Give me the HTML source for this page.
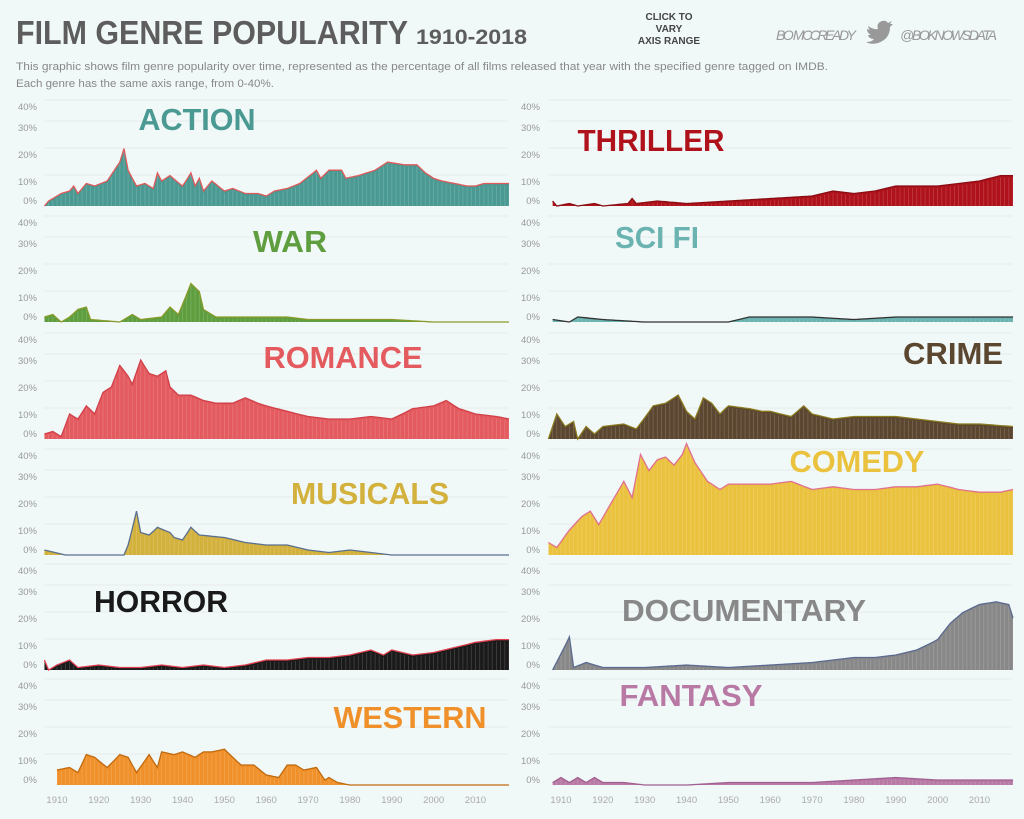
<!DOCTYPE html>
<html><head><meta charset="utf-8"><style>
body{margin:0;background:#f1f8f8;width:1024px;height:819px;overflow:hidden;font-family:"Liberation Sans",sans-serif}
svg{position:absolute;left:0;top:0}
</style></head><body>
<svg id="s" width="1024" height="819" xmlns="http://www.w3.org/2000/svg">
<text x="16" y="44" font-size="33" font-weight="bold" fill="#5d5d5d" textLength="392" lengthAdjust="spacingAndGlyphs">FILM GENRE POPULARITY</text>
<text x="416" y="44" font-size="21" font-weight="bold" fill="#5d5d5d" textLength="111" lengthAdjust="spacingAndGlyphs">1910-2018</text>
<text x="16" y="70" font-size="11" fill="#888" textLength="812" lengthAdjust="spacingAndGlyphs">This graphic shows film genre popularity over time, represented as the percentage of all films released that year with the specified genre tagged on IMDB.</text>
<text x="16" y="87" font-size="11" fill="#888" textLength="258" lengthAdjust="spacingAndGlyphs">Each genre has the same axis range, from 0-40%.</text>
<text x="669" y="20" font-size="10" font-weight="bold" fill="#444" text-anchor="middle">CLICK TO</text>
<text x="669" y="32" font-size="10" font-weight="bold" fill="#444" text-anchor="middle">VARY</text>
<text x="669" y="44" font-size="10" font-weight="bold" fill="#444" text-anchor="middle">AXIS RANGE</text>
<text x="776" y="40" font-size="14" font-style="italic" fill="#999" textLength="80">BO MCCREADY</text>
<path d="M868 26 q6 4 10 3 q-2-6 4-8 q4-1 6 2 l4-2 l-2 3 l3 0 l-3 3 q0 12-12 16 q-7 2-12-1 q6 0 8-3 q-5 0-6-4 l3 0 q-4-2-4-6 l3 1 q-3-3-1-7z" fill="#999"/>
<text x="900" y="40" font-size="14" font-style="italic" fill="#999" textLength="97">@BOKNOWSDATA</text>
<g id="g"></g>
</svg>
<script>
const D={
action:[[1907,0],[1908,2],[1911,5],[1913,6],[1914,8],[1915,5],[1917,9],[1919,8],[1922,10],[1925,17],[1926,22],[1927,14],[1929,8],[1931,9],[1933,7],[1934,13],[1935,10],[1937,12],[1940,8],[1942,13],[1943,8],[1944,11],[1945,6],[1947,10],[1950,6],[1952,7],[1955,5],[1958,5],[1960,4],[1962,6],[1965,7],[1968,9],[1972,14],[1973,11],[1975,14],[1978,14],[1979,11],[1982,12],[1986,14],[1989,17],[1993,16],[1996,16],[1998,13],[2000,11],[2002,10],[2005,9],[2008,8],[2010,8],[2012,9],[2015,9],[2018,9]],
thriller:[[1908,2],[1909,0],[1912,1],[1914,0],[1918,1],[1920,0],[1926,1],[1927,3],[1928,1],[1933,2],[1940,1],[1950,2],[1960,3],[1970,4],[1975,6],[1980,5],[1985,6],[1990,8],[1995,8],[2000,8],[2005,9],[2010,10],[2015,12],[2018,12]],
war:[[1907,2],[1909,3],[1911,0],[1913,2],[1915,5],[1917,6],[1918,1],[1925,0],[1928,3],[1930,1],[1935,2],[1937,6],[1939,3],[1941,11],[1942,15],[1944,12],[1945,5],[1948,2],[1955,2],[1960,2],[1965,2],[1970,1],[1980,1],[1990,1],[2000,0],[2018,0]],
scifi:[[1908,1],[1912,0],[1914,2],[1920,1],[1930,0],[1950,0],[1955,2],[1960,2],[1970,2],[1980,1],[1990,2],[2000,2],[2018,2]],
romance:[[1907,2],[1909,3],[1911,1],[1913,10],[1915,8],[1917,13],[1919,10],[1921,18],[1923,20],[1925,28],[1927,24],[1928,21],[1930,30],[1932,25],[1934,24],[1936,26],[1937,20],[1939,17],[1942,17],[1945,15],[1948,14],[1952,14],[1955,16],[1958,14],[1960,13],[1965,11],[1970,9],[1975,8],[1980,8],[1985,9],[1990,8],[1995,12],[2000,13],[2003,15],[2006,12],[2010,10],[2015,9],[2018,8]],
crime:[[1907,0],[1909,10],[1911,5],[1913,7],[1914,0],[1916,5],[1918,2],[1920,5],[1925,6],[1928,4],[1932,13],[1935,14],[1938,17],[1940,11],[1942,8],[1944,16],[1946,14],[1948,10],[1950,13],[1955,12],[1958,11],[1960,11],[1965,9],[1968,13],[1970,10],[1975,8],[1980,9],[1985,9],[1990,9],[1995,8],[2000,7],[2005,6],[2010,6],[2018,5]],
musicals:[[1907,2],[1912,0],[1926,0],[1927,4],[1929,17],[1930,9],[1932,8],[1934,11],[1937,9],[1938,7],[1940,6],[1942,11],[1944,8],[1950,7],[1955,5],[1960,4],[1965,4],[1970,2],[1975,1],[1980,2],[1985,1],[1990,0],[2000,0],[2018,0]],
comedy:[[1907,5],[1909,3],[1912,10],[1915,15],[1917,17],[1919,12],[1922,20],[1925,28],[1927,22],[1929,38],[1931,32],[1933,36],[1935,37],[1937,34],[1939,38],[1940,42],[1942,35],[1945,28],[1948,25],[1950,27],[1955,27],[1960,27],[1965,28],[1970,25],[1975,26],[1980,25],[1985,25],[1990,26],[1995,26],[2000,27],[2005,25],[2010,24],[2015,24],[2018,25]],
horror:[[1907,4],[1908,0],[1910,2],[1913,4],[1915,1],[1920,2],[1925,1],[1930,1],[1935,2],[1940,1],[1945,2],[1950,1],[1955,2],[1960,4],[1965,4],[1970,5],[1975,5],[1980,6],[1985,8],[1988,6],[1990,8],[1995,6],[2000,7],[2005,9],[2010,11],[2015,12],[2018,12]],
docu:[[1908,0],[1912,13],[1913,1],[1916,3],[1920,1],[1930,1],[1940,2],[1950,1],[1960,2],[1970,3],[1980,5],[1985,5],[1990,6],[1995,8],[2000,12],[2003,18],[2006,22],[2010,25],[2014,26],[2017,25],[2018,20]],
western:[[1910,6],[1913,7],[1915,5],[1917,12],[1919,11],[1922,7],[1925,12],[1927,11],[1929,5],[1932,12],[1934,7],[1935,13],[1938,12],[1940,13],[1943,11],[1945,13],[1947,13],[1950,14],[1952,11],[1954,8],[1957,8],[1960,4],[1963,3],[1965,8],[1967,8],[1969,6],[1972,7],[1974,2],[1975,3],[1977,1],[1980,0],[2018,0]],
fantasy:[[1908,1],[1910,3],[1912,1],[1914,3],[1916,1],[1918,3],[1920,1],[1925,1],[1930,0],[1940,0],[1950,1],[1960,1],[1970,1],[1980,2],[1990,3],[2000,2],[2018,2]]};
const P=[
['action',0,106,'#4a9a93','#e05a5a','ACTION',197,119,117],
['thriller',1,106,'#b0121b','#8a0d14','THRILLER',651,140,147],
['war',0,222,'#5e9e3f','#8a9a2a','WAR',290,241,74],
['scifi',1,222,'#6ab3b0','#333','SCI FI',657,237,84],
['romance',0,339,'#e35a5f','#d04048','ROMANCE',343,357,159],
['crime',1,339,'#5b4630','#8a7a20','CRIME',953,353,100],
['musicals',0,455,'#d3b13d','#5a7090','MUSICALS',370,493,158],
['comedy',1,455,'#eac23e','#e07090','COMEDY',857,461,135],
['horror',0,570,'#1a1a1a','#e04050','HORROR',161,601,134],
['docu',1,570,'#888888','#5a6a90','DOCUMENTARY',744,610,244],
['western',0,685,'#f0902a','#c06a10','WESTERN',410,717,153],
['fantasy',1,685,'#b87aa5','#a06090','FANTASY',691,695,143]];
function vy(v){return v<=10?100-v*2.5:75-2.7*(v-10);}
let h='';
function interp(d,y){if(y<d[0][0]||y>d[d.length-1][0])return null;for(let i=0;i<d.length-1;i++){if(y>=d[i][0]&&y<=d[i+1][0]){const t=(y-d[i][0])/(d[i+1][0]-d[i][0]);return d[i][1]+t*(d[i+1][1]-d[i][1]);}}return d[d.length-1][1];}
for(const [k,c,ty,fill,line,name,tx,tyy,tw] of P){
 const x0=c?548:44,x1=c?1012:508,ox=c?561:57,s=4.185;
 const X=y=>ox+(y-1910)*s;
 [[0,'40%'],[21,'30%'],[48,'20%'],[75,'10%'],[94,'0%']].forEach(([o,l],i)=>{
  if(i<4)h+=`<line x1="${x0}" x2="${x1}" y1="${ty+o-6}" y2="${ty+o-6}" stroke="#e6eded" stroke-width="1"/>`;
  h+=`<text x="${c?540:37}" y="${ty+o+4}" font-size="9.5" fill="#999" text-anchor="end">${l}</text>`;});
 const d=D[k],base=ty+100;
 let pts=[];for(let y=d[0][0];y<=d[d.length-1][0];y++)pts.push([X(y),ty+vy(interp(d,y))]);
 const ln=pts.map(p=>p[0].toFixed(1)+','+p[1].toFixed(1)).join(' ');
 h+=`<polygon points="${pts[0][0].toFixed(1)},${base} ${ln} ${pts[pts.length-1][0].toFixed(1)},${base}" fill="${fill}"/>`;
 for(const p of pts)h+=`<line x1="${p[0].toFixed(1)}" x2="${p[0].toFixed(1)}" y1="${p[1]+2}" y2="${base}" stroke="#fff" stroke-opacity="0.18" stroke-width="0.8"/>`;
 h+=`<polyline points="${ln}" fill="none" stroke="${line}" stroke-width="1.3"/>`;
 h+=`<text x="${tx}" y="${tyy+11}" font-size="31" font-weight="bold" fill="${fill}" text-anchor="middle" textLength="${tw}" lengthAdjust="spacingAndGlyphs">${name}</text>`;
 if(ty==685){for(let y=1910;y<=2010;y+=10)h+=`<text x="${X(y)}" y="803" font-size="9.5" fill="#aaa" text-anchor="middle">${y}</text>`;}
}
document.getElementById('g').innerHTML=h;
</script>
</body></html>
